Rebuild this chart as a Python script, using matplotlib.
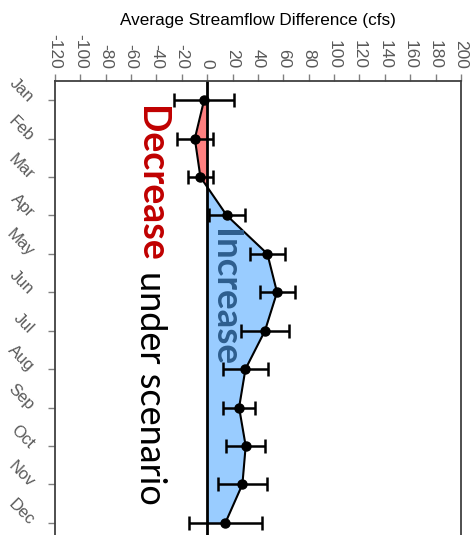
import matplotlib
matplotlib.use("Agg")
import matplotlib.pyplot as plt
import numpy as np

months = ["Jan", "Feb", "Mar", "Apr", "May", "Jun", "Jul", "Aug", "Sep", "Oct", "Nov", "Dec"]
diff = [-2.5, -9.8, -5.4, 15.4, 47.4, 55.0, 45.5, 30.1, 25.1, 30.3, 27.7, 14.3]
err = [23.6, 14.2, 9.9, 14.2, 13.7, 13.8, 18.6, 17.7, 12.8, 15.6, 19.3, 28.9]
xticks = list(range(-120, 201, 20))

W, H = 477, 535
fig = plt.figure(figsize=(W / 100, H / 100), dpi=100)
ax = fig.add_axes([55 / W, -7 / H, (461 - 55) / W, (535 - 81 + 7) / H])

y = np.arange(len(months))
d = np.array(diff)
ax.fill_betweenx(y, 0, d, where=d < 0, interpolate=True, color="#FF8080", lw=0, zorder=1)
ax.fill_betweenx(y, 0, d, where=d > 0, interpolate=True, color="#99CCFF", lw=0, zorder=1)
ax.axvline(0, color="black", lw=2, zorder=2)
ax.plot(d, y, color="black", lw=1.5, zorder=3)
ax.errorbar(d, y, xerr=err, fmt="o", color="black", ms=6.5, elinewidth=1.8,
            capsize=5, capthick=1.8, zorder=4)

ax.set_xlim(-120, 200)
ax.set_ylim(11.5, -0.5)
ax.xaxis.tick_top()
ax.set_xticks(xticks)
ax.set_xticklabels([str(v) for v in xticks], rotation=-90, color="#595959",
                   fontsize=12.5, family="Liberation Sans")
ax.set_yticks(y)
ax.set_yticklabels(months, rotation=-45, color="#595959", fontsize=12,
                   family="Liberation Sans", ha="right", va="center",
                   rotation_mode="anchor")
ax.tick_params(axis="x", direction="out", length=5, width=1, color="#808080", pad=4)
ax.tick_params(axis="y", direction="out", length=5, width=1, color="#808080", pad=12)
for s in ax.spines.values():
    s.set_color("#404040")
    s.set_linewidth(1.3)

fig.text(258 / W, 1 - 20 / H, "Average Streamflow Difference (cfs)", ha="center",
         va="center", fontsize=12.3, family="Liberation Sans", color="black")

# rotated annotations
xd = lambda px: (px - 207.5) / (406 / 320)
yd = lambda py: (py - 100) / 38.5
t1 = ax.text(xd(151), yd(106), "Decrease", rotation=-90, ha="center", va="top",
             fontsize=27, fontweight="bold", color="#C00000", family="Lato", zorder=5)
fig.canvas.draw()
bb = t1.get_window_extent()
bottom_px = H - bb.y0  # pixel from top
ax.text(xd(151), yd(bottom_px + 9), "under scenario", rotation=-90, ha="center",
        va="top", fontsize=26, color="black", family="Lato", zorder=5)
ax.text(xd(225), yd(229), "Increase", rotation=-90, ha="center", va="top",
        fontsize=26.5, fontweight="bold", color="#2E5E8E", family="Lato", zorder=5)

fig.savefig("out.png", dpi=100)
